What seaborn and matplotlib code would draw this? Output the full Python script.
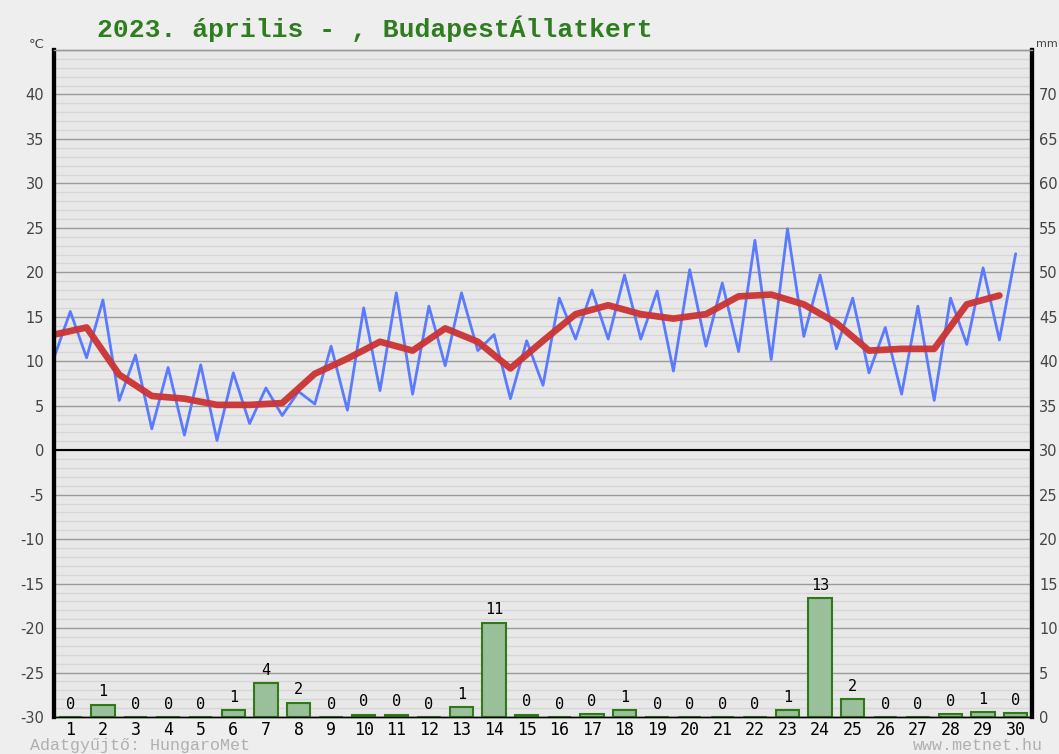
import numpy as np
import pandas as pd
import seaborn as sns
import matplotlib.pyplot as plt

# napi adatok, 2023. április
days = list(range(1, 31))
t_min = [10.4, 10.4, 5.6, 2.4, 1.7, 1.1, 3.0, 3.9, 5.2, 4.5,
         6.7, 6.3, 9.5, 11.2, 5.8, 7.3, 12.5, 12.5, 12.5, 8.9,
         11.7, 11.1, 10.2, 12.8, 11.4, 8.7, 6.3, 5.6, 11.9, 12.4]
t_max = [15.6, 16.9, 10.7, 9.3, 9.6, 8.7, 7.0, 6.6, 11.7, 16.0,
         17.7, 16.2, 17.7, 13.0, 12.3, 17.1, 18.0, 19.7, 17.9, 20.3,
         18.8, 23.6, 24.9, 19.7, 17.1, 13.8, 16.2, 17.1, 20.5, 22.1]
t_mean = [13.0, 13.8, 8.5, 6.1, 5.8, 5.1, 5.1, 5.3, 8.6, 10.3,
          12.2, 11.2, 13.7, 12.2, 9.2, 12.3, 15.3, 16.3, 15.3, 14.8,
          15.3, 17.3, 17.5, 16.4, 14.3, 11.2, 11.4, 11.4, 16.4, 17.4]
precip = [0, 1.4, 0, 0, 0, 0.8, 3.8, 1.6, 0, 0.25,
          0.25, 0, 1.1, 10.6, 0.25, 0, 0.3, 0.75, 0, 0,
          0, 0, 0.75, 13.4, 2.0, 0, 0, 0.3, 0.55, 0.45]

title = "2023. április - , BudapestÁllatkert"

# min a nap elején, max a nap közepén
zig_x, zig_t = [], []
for d, lo, hi in zip(days, t_min, t_max):
    zig_x += [d - 0.5, d]
    zig_t += [lo, hi]
df_zig = pd.DataFrame({"x": zig_x, "t": zig_t})
df_mean = pd.DataFrame({"x": [d - 0.5 for d in days], "t": t_mean})
df_p = pd.DataFrame({"day": days, "mm": precip})

sns.set_theme(style="white")
plt.rcParams['font.family'] = ['DejaVu Sans']
plt.rcParams['axes.unicode_minus'] = False

fig = plt.figure(figsize=(10.59, 7.54), dpi=100, facecolor='#eeeeee')
ax = fig.add_axes([0.051, 0.049, 0.9235, 0.8847])
ax.set_facecolor('#e8e8e8')

ax.set_ylim(-30, 45)
ax.set_xlim(0.5, 30.5)
ax.set_yticks(range(-30, 45, 5))
ax.set_yticks(range(-30, 46, 1), minor=True)
ax.grid(which='minor', axis='y', color='#d6d6d6', lw=1)
ax.grid(which='major', axis='y', color='#9a9a9a', lw=1)
ax.axhline(0, color='black', lw=1.5, zorder=1)
ax.set_axisbelow(True)

sns.lineplot(data=df_zig, x='x', y='t', ax=ax, color='#5b7bff', lw=2)
sns.lineplot(data=df_mean, x='x', y='t', ax=ax, color='#cc3333', lw=4.8, alpha=0.95)

ax2 = ax.twinx()
ax2.set_ylim(0, 75)
sns.barplot(data=df_p, x='day', y='mm', ax=ax2, native_scale=True, width=0.72,
            color='#99c09a', edgecolor='#2f7a17', linewidth=1.5,
            saturation=1, errorbar=None)
ax2.set_xlim(0.5, 30.5)
ax2.set_yticks(range(0, 75, 5))
for d, p in zip(days, precip):
    ax2.text(d, p + 0.6, str(int(np.floor(p + 0.5))), ha='center', va='bottom',
             family='DejaVu Sans Mono', fontsize=11, color='black')

ax.set_xticks(days)
ax.set_xticklabels([str(d) for d in days], fontsize=12, family='DejaVu Sans Mono', color='black')
ax.tick_params(axis='x', length=0, pad=3)
ax.tick_params(axis='y', which='both', length=0, pad=7, labelsize=10.5, labelcolor='#444444')
ax2.tick_params(axis='y', which='both', length=0, pad=5, labelsize=10.5, labelcolor='#444444')
ax.set_xlabel('')
ax.set_ylabel('')
ax2.set_xlabel('')
ax2.set_ylabel('')

for a in (ax, ax2):
    a.spines['left'].set_linewidth(3)
    a.spines['left'].set_color('black')
    a.spines['right'].set_linewidth(3)
    a.spines['right'].set_color('black')
    a.spines['top'].set_color('#9a9a9a')
    a.spines['top'].set_linewidth(1)
    a.spines['bottom'].set_color('black')
    a.spines['bottom'].set_linewidth(1)

fig.text(0.0916, 0.962, title, family='Liberation Mono', weight='bold',
         color='#2e7d1e', fontsize=19, va='center', ha='left')
fig.text(0.027, 0.941, '°C', fontsize=9.5, color='#444444', va='center')
fig.text(0.978, 0.941, 'mm', fontsize=8, color='#444444', va='center')
fig.text(0.028, 0.011, 'Adatgyűjtő: HungaroMet', family='Liberation Mono',
         fontsize=12, color='#b0b0b0', va='center', ha='left')
fig.text(0.985, 0.011, 'www.metnet.hu', family='Liberation Mono',
         fontsize=12, color='#b0b0b0', va='center', ha='right')

fig.savefig('out.png', dpi=100, facecolor=fig.get_facecolor())
